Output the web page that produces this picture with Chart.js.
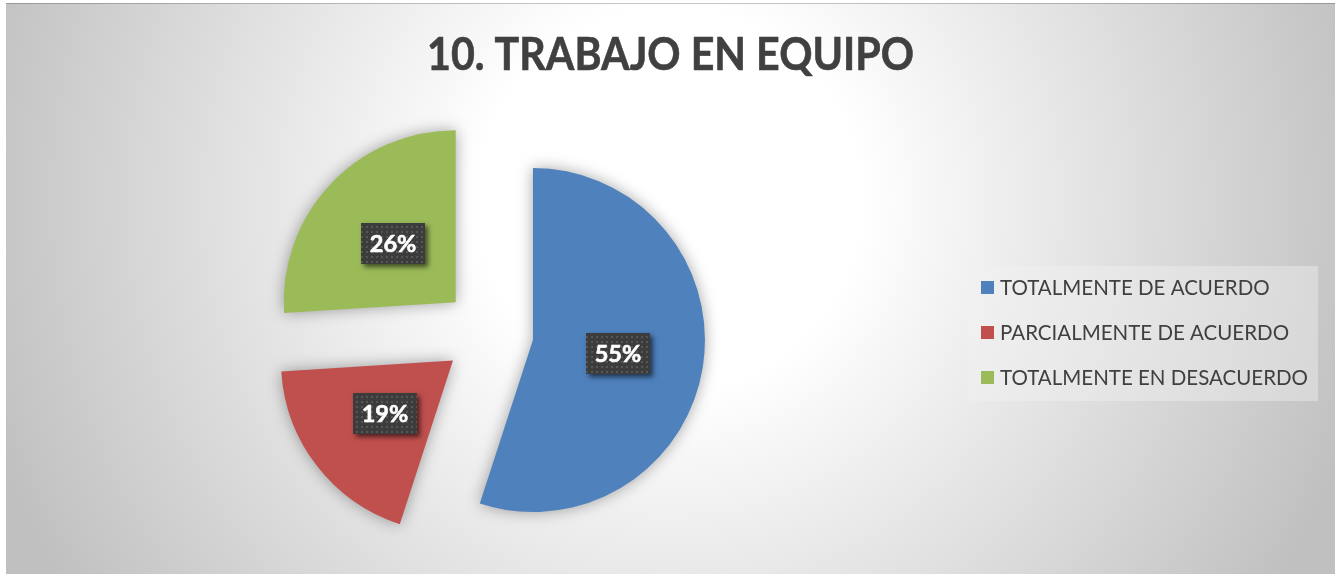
<!DOCTYPE html>
<html>
<head>
<meta charset="utf-8">
<script src="https://cdn.jsdelivr.net/npm/chart.js@4.4.1/dist/chart.umd.min.js"></script>
<style>
  html, body { margin: 0; padding: 0; background: #ffffff; }
  #wrap { position: relative; width: 1343px; height: 575px; }
  canvas { display: block; }
</style>
</head>
<body>
<div id="wrap"><canvas id="pie" width="1343" height="575"></canvas></div>
<script>
// Survey answers for question 10
const chartTitle = '10. TRABAJO EN EQUIPO';
const categories = ['TOTALMENTE DE ACUERDO', 'PARCIALMENTE DE ACUERDO', 'TOTALMENTE EN DESACUERDO'];
const shares = [55, 19, 26];

// Styling
const sliceColors = ['#4F81BD', '#C0504D', '#9BBB59'];
const TEXT_DARK = '#404040';
const RADIUS = 172;          // pie radius in px
const EXPLODE = 45;          // distance each slice is pulled out along its bisector
const FRAME = { x: 6, y: 3, w: 1329, h: 571 };
const LEGEND_BOX = { x: 968, y: 266, w: 350, h: 135 };
const TITLE_WIDTH = 487;

// Dotted fill used behind the percentage labels
function makeDotPattern(ctx) {
  const tile = document.createElement('canvas');
  tile.width = 5; tile.height = 5;
  const t = tile.getContext('2d');
  t.fillStyle = '#3c3c3c';
  t.fillRect(0, 0, 5, 5);
  t.fillStyle = '#565656';
  t.fillRect(1, 1, 2, 2);
  return ctx.createPattern(tile, 'repeat');
}

const backgroundPlugin = {
  id: 'panelBackground',
  beforeDraw(chart) {
    const ctx = chart.ctx;
    ctx.save();
    ctx.fillStyle = '#ffffff';
    ctx.fillRect(0, 0, chart.width, chart.height);
    const g = ctx.createRadialGradient(670, 200, 190, 670, 200, 720);
    g.addColorStop(0, '#ffffff');
    g.addColorStop(1, '#c0c0c0');
    ctx.fillStyle = g;
    ctx.fillRect(FRAME.x, FRAME.y, FRAME.w, FRAME.h);
    ctx.strokeStyle = 'rgba(0,0,0,0.22)';
    ctx.lineWidth = 1;
    ctx.beginPath();
    ctx.moveTo(FRAME.x, FRAME.y + 0.5);
    ctx.lineTo(FRAME.x + FRAME.w, FRAME.y + 0.5);
    ctx.stroke();

    // title, condensed to the width of the heading and slightly heavier
    ctx.fillStyle = TEXT_DARK;
    ctx.strokeStyle = TEXT_DARK;
    ctx.lineWidth = 0.6;
    ctx.lineJoin = 'round';
    ctx.font = 'bold 45px Lato';
    ctx.textAlign = 'center';
    ctx.textBaseline = 'alphabetic';
    const sx = TITLE_WIDTH / ctx.measureText(chartTitle).width;
    ctx.translate(670.5, 70);
    ctx.scale(sx, 1);
    ctx.fillText(chartTitle, 0, 0);
    ctx.strokeText(chartTitle, 0, 0);
    ctx.restore();
  }
};

// Pull every slice out of the centre along its bisector
const explodePlugin = {
  id: 'explodeSlices',
  afterDatasetsUpdate(chart) {
    chart.getDatasetMeta(0).data.forEach(arc => {
      const mid = (arc.startAngle + arc.endAngle) / 2;
      arc.x += Math.cos(mid) * EXPLODE;
      arc.y += Math.sin(mid) * EXPLODE;
    });
  }
};

// Soft shadow under the slices
const sliceShadowPlugin = {
  id: 'sliceShadow',
  beforeDatasetsDraw(chart) {
    const ctx = chart.ctx;
    ctx.save();
    ctx.shadowColor = 'rgba(0,0,0,0.35)';
    ctx.shadowBlur = 15;
    ctx.shadowOffsetX = 0;
    ctx.shadowOffsetY = 0;
  },
  afterDatasetsDraw(chart) {
    chart.ctx.restore();
  }
};

const valueLabelPlugin = {
  id: 'valueLabels',
  afterDatasetsDraw(chart) {
    const ctx = chart.ctx;
    const meta = chart.getDatasetMeta(0);
    const data = chart.data.datasets[0].data;
    const total = data.reduce((a, b) => a + b, 0);
    const pattern = makeDotPattern(ctx);
    meta.data.forEach((arc, i) => {
      const { x: cx, y: cy } = arc.tooltipPosition();
      const text = Math.round(data[i] / total * 100) + '%';
      const w = 64, h = 41;
      const x0 = Math.round(cx - w / 2), y0 = Math.round(cy - h / 2);
      ctx.save();
      ctx.shadowColor = 'rgba(0,0,0,0.6)';
      ctx.shadowBlur = 5;
      ctx.shadowOffsetX = 3;
      ctx.shadowOffsetY = 3;
      ctx.fillStyle = '#3c3c3c';
      ctx.fillRect(x0, y0, w, h);
      ctx.shadowColor = 'transparent';
      ctx.fillStyle = pattern;
      ctx.fillRect(x0, y0, w, h);
      ctx.fillStyle = '#ffffff';
      ctx.strokeStyle = '#ffffff';
      ctx.lineWidth = 0.6;
      ctx.font = 'bold 23.5px Lato';
      ctx.textAlign = 'center';
      ctx.textBaseline = 'middle';
      ctx.fillText(text, cx, cy + 1);
      ctx.strokeText(text, cx, cy + 1);
      ctx.restore();
    });
  }
};

const legendPlugin = {
  id: 'sideLegend',
  afterDraw(chart) {
    const ctx = chart.ctx;
    ctx.save();
    ctx.fillStyle = 'rgba(242,242,242,0.4)';
    ctx.fillRect(LEGEND_BOX.x, LEGEND_BOX.y, LEGEND_BOX.w, LEGEND_BOX.h);
    ctx.font = '20.5px Lato';
    ctx.textAlign = 'left';
    ctx.textBaseline = 'middle';
    chart.data.labels.forEach((label, i) => {
      const cy = 287.5 + i * 45;
      ctx.fillStyle = chart.data.datasets[0].backgroundColor[i];
      ctx.fillRect(981, Math.round(cy - 6.5), 13, 13);
      ctx.fillStyle = TEXT_DARK;
      ctx.fillText(label, 1000, cy + 1);
    });
    ctx.restore();
  }
};

new Chart(document.getElementById('pie'), {
  type: 'pie',
  data: {
    labels: categories,
    datasets: [{
      data: shares,
      backgroundColor: sliceColors,
      borderWidth: 0
    }]
  },
  options: {
    responsive: false,
    animation: false,
    events: [],
    radius: RADIUS,
    layout: { padding: { left: 0, right: 366, top: 91, bottom: 0 } },
    plugins: {
      legend: { display: false },
      title: { display: false },
      tooltip: { enabled: false }
    }
  },
  plugins: [backgroundPlugin, explodePlugin, sliceShadowPlugin, valueLabelPlugin, legendPlugin]
});
</script>
</body>
</html>
